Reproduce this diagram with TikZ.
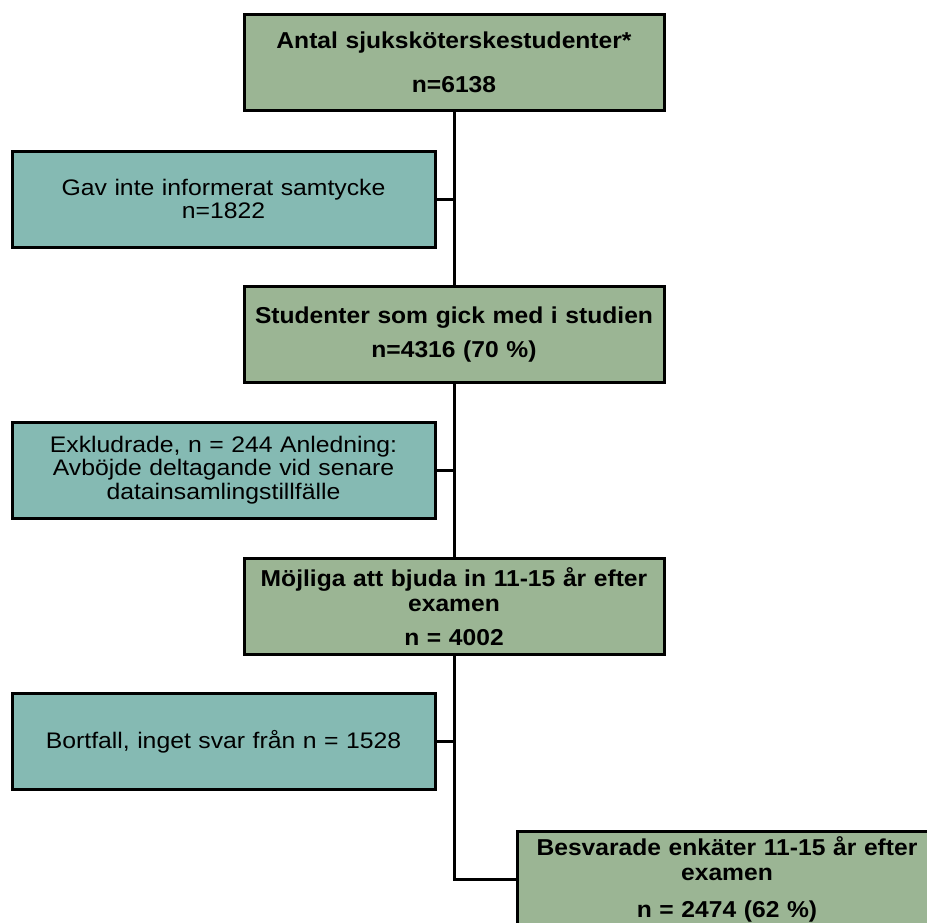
\documentclass[tikz,border=0pt]{standalone}
\usepackage{fontspec}
\setmainfont{Liberation Sans}[FakeStretch=1.1]
\newfontfamily\boldfam{Liberation Sans}[FakeStretch=1.07]
\definecolor{boxgreen}{HTML}{9BB594}
\definecolor{boxteal}{HTML}{85BAB3}
\begin{document}
\begin{tikzpicture}[x=1pt,y=-1pt,
  mainbox/.style={draw=black, line width=3pt, fill=boxgreen, minimum width=420pt, minimum height=96pt,
     inner sep=0pt, align=center, text width=414pt, font=\boldfam\fontsize{23}{25}\selectfont\bfseries},
  sidebox/.style={draw=black, line width=3pt, fill=boxteal, minimum width=423pt, minimum height=96pt,
     inner sep=0pt, align=center, text width=414pt, font=\fontsize{22.5}{23.5}\selectfont},
  link/.style={draw=black, line width=3pt}]
\useasboundingbox (0,0) rectangle (927,922);
\node[mainbox] (b1) at (454,62) {Antal sjuksköterskestudenter*\\[19pt]n=6138};
\node[sidebox] (b2) at (223.5,199) {Gav inte informerat samtycke\\n=1822};
\node[mainbox] (b3) at (454,334.5) {Studenter som gick med i studien\\[9pt]n=4316 (70~\%)};
\node[sidebox] (b4) at (223.5,470) {Exkludrade, n = 244 Anledning:\\Avböjde deltagande vid senare\\datainsamlingstillfälle};
\node[mainbox] (b5) at (454,606.5) {Möjliga att bjuda in 11-15 år efter\\examen\\[9pt]n = 4002};
\node[sidebox] (b6) at (223.5,741.5) {Bortfall, inget svar från n = 1528};
\node[mainbox] (b7) at (727,879) {Besvarade enkäter 11-15 år efter\\examen\\[12pt]n = 2474 (62~\%)};
\draw[link] (b1.south) -- (b3.north);
\draw[link] (b3.south) -- (b5.north);
\draw[link] (b5.south) |- (b7.west);
\draw[link] (b2.east) -- (b2.east -| b1.south);
\draw[link] (b4.east) -- (b4.east -| b1.south);
\draw[link] (b6.east) -- (b6.east -| b1.south);
\end{tikzpicture}
\end{document}
